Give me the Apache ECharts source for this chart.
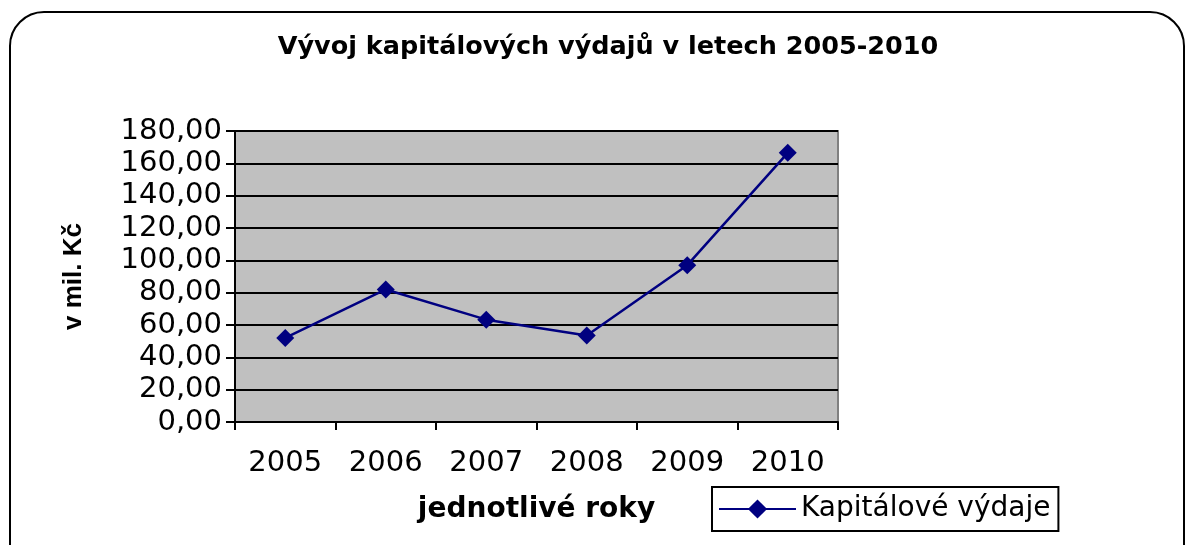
<!DOCTYPE html>
<html>
<head>
<meta charset="utf-8">
<script src="https://cdn.jsdelivr.net/npm/echarts@6/dist/echarts.min.js"></script>
<style>
html, body { margin: 0; padding: 0; background: #fff; }
#chart { width: 1187px; height: 545px; }
</style>
</head>
<body>
<div id="chart"></div>
<script>
var years = ['2005', '2006', '2007', '2008', '2009', '2010'];
var vydaje = [52.0, 82.0, 63.3, 53.5, 97.0, 166.5];
var seriesName = 'Kapitálové výdaje';

var chart = echarts.init(document.getElementById('chart'));
var font = 'DejaVu Sans, Verdana, sans-serif';

var option = {
    backgroundColor: '#fff',
    animation: false,
    title: {
        text: 'Vývoj kapitálových výdajů v letech 2005-2010',
        left: 603,
        textAlign: 'center',
        top: 29,
        textStyle: { fontFamily: font, fontSize: 25.5, fontWeight: 'bold', color: '#000' }
    },
    graphic: [{
        type: 'rect',
        shape: { x: 10, y: 12, width: 1174, height: 600, r: 34 },
        style: { fill: 'none', stroke: '#000', lineWidth: 2 },
        silent: true
    }],
    legend: {
        data: [seriesName],
        left: 712,
        top: 487,
        padding: [8, 8, 8, 6],
        borderColor: '#000',
        borderWidth: 2,
        backgroundColor: '#fff',
        itemWidth: 77,
        itemHeight: 24,
        itemGap: 6,
        textStyle: { fontFamily: font, fontSize: 28, color: '#000' }
    },
    grid: {
        left: 235,
        right: 349,
        top: 131,
        bottom: 123,
        show: true,
        backgroundColor: '#c0c0c0',
        borderColor: '#808080',
        borderWidth: 2
    },
    xAxis: {
        type: 'category',
        data: years,
        boundaryGap: true,
        name: 'jednotlivé roky',
        nameLocation: 'middle',
        nameGap: 74,
        nameTextStyle: { fontFamily: font, fontSize: 28, fontWeight: 'bold', color: '#000' },
        axisLine: { lineStyle: { color: '#000', width: 2 } },
        axisTick: { show: true, length: 8, inside: false, lineStyle: { color: '#000', width: 2 } },
        axisLabel: { fontFamily: font, fontSize: 29, color: '#000', margin: 27 }
    },
    yAxis: {
        type: 'value',
        min: 0,
        max: 180,
        interval: 20,
        name: 'v mil. Kč',
        nameLocation: 'middle',
        nameGap: 148,
        nameTextStyle: { fontFamily: 'Liberation Sans, Arial, sans-serif', fontSize: 26, fontWeight: 'bold', color: '#000' },
        axisLine: { show: true, lineStyle: { color: '#000', width: 2 } },
        axisTick: { show: true, length: 9, lineStyle: { color: '#000', width: 2 } },
        axisLabel: {
            fontFamily: font, fontSize: 29, color: '#000', margin: 13,
            formatter: function (v) { return v.toFixed(2).replace('.', ','); }
        },
        splitLine: { show: true, lineStyle: { color: '#000', width: 2 } }
    },
    series: [{
        name: seriesName,
        type: 'line',
        data: vydaje,
        symbol: 'diamond',
        symbolSize: 18,
        itemStyle: { color: '#000080' },
        lineStyle: { color: '#000080', width: 2.5 }
    }]
};

chart.setOption(option);
</script>
</body>
</html>
